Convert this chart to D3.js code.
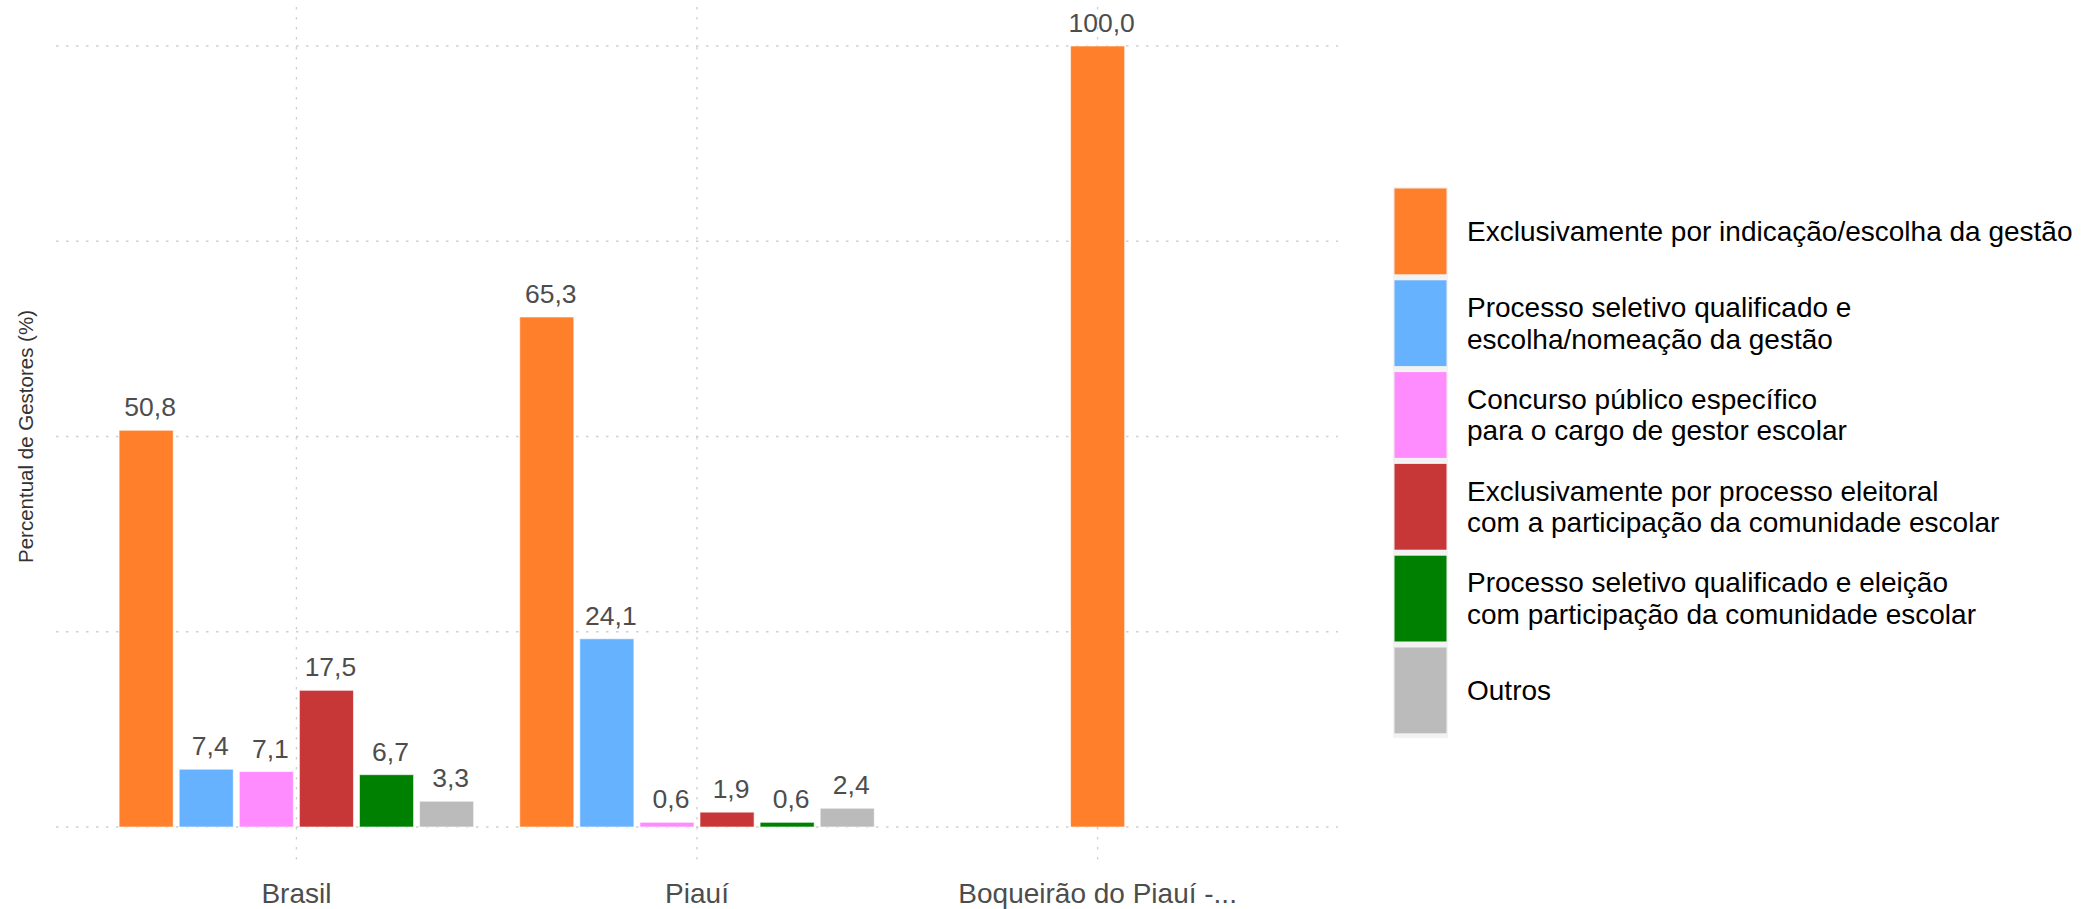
<!DOCTYPE html>
<html>
<head>
<meta charset="utf-8">
<script src="https://cdn.jsdelivr.net/npm/d3@7"></script>
<style>
  html, body { margin: 0; padding: 0; background: #ffffff; }
  svg { display: block; }
  text { font-family: "Liberation Sans", Arial, Helvetica, sans-serif; }
</style>
</head>
<body>
<svg id="chart" width="2096" height="909"></svg>
<script>
// ---- data ----
const categories = ["Brasil", "Piauí", "Boqueirão do Piauí -..."];
const seriesNames = [
  "Exclusivamente por indicação/escolha da gestão",
  "Processo seletivo qualificado e\nescolha/nomeação da gestão",
  "Concurso público específico\npara o cargo de gestor escolar",
  "Exclusivamente por processo eleitoral\ncom a participação da comunidade escolar",
  "Processo seletivo qualificado e eleição\ncom participação da comunidade escolar",
  "Outros"
];
const seriesColors = ["#FF7F2A", "#66B2FF", "#FF8CFF", "#C83737", "#008000", "#BBBBBB"];
const brasilValues = [50.8, 7.4, 7.1, 17.5, 6.7, 3.3];
const piauiValues = [65.3, 24.1, 0.6, 1.9, 0.6, 2.4];
const boqueiraoValues = [100.0, null, null, null, null, null];
const yTicks = [0, 25, 50, 75, 100];

const valuesByCategory = [brasilValues, piauiValues, boqueiraoValues];

// ---- layout ----
const svg = d3.select("#chart");
const panel = { left: 56, right: 1338, top: 7, bottom: 866 };

const x = d3.scaleBand()
  .domain(categories)
  .range([panel.left, panel.right])
  .paddingInner(0)
  .paddingOuter(0.1);

const y = d3.scaleLinear().domain([0, 100]).range([827, 46]);

const groupHalf = x.step() * 0.45;
const xSub = d3.scaleBand()
  .domain(d3.range(seriesNames.length))
  .range([-groupHalf, groupHalf])
  .paddingInner(0.1)
  .paddingOuter(0.05);

const color = d3.scaleOrdinal().domain(d3.range(seriesNames.length)).range(seriesColors);

// gridlines
const grid = svg.append("g");
grid.selectAll("line.h").data(yTicks).enter().append("line")
  .attr("x1", panel.left).attr("x2", panel.right)
  .attr("y1", d => y(d)).attr("y2", d => y(d))
  .attr("stroke", "#cfcfcf").attr("stroke-width", 1.3)
  .attr("stroke-dasharray", "2.5,7.5");
grid.selectAll("line.v").data(categories).enter().append("line")
  .attr("x1", d => x(d) + x.bandwidth() / 2).attr("x2", d => x(d) + x.bandwidth() / 2)
  .attr("y1", panel.top).attr("y2", panel.bottom)
  .attr("stroke", "#cfcfcf").attr("stroke-width", 1.3)
  .attr("stroke-dasharray", "2.5,7.5");

// bars
const bars = [];
valuesByCategory.forEach((vals, ci) => {
  const present = vals.map((v, i) => ({ v, i })).filter(d => d.v !== null);
  present.forEach(d => {
    const cx = x(categories[ci]) + x.bandwidth() / 2;
    let bx;
    if (present.length === 1) {
      bx = cx - xSub.bandwidth() / 2;
    } else {
      bx = cx + xSub(d.i);
    }
    bars.push({ cat: categories[ci], i: d.i, v: d.v, x: bx });
  });
});

const gBars = svg.append("g");
gBars.selectAll("rect").data(bars).enter().append("rect")
  .attr("x", d => d.x)
  .attr("width", xSub.bandwidth())
  .attr("y", d => y(d.v))
  .attr("height", d => y(0) - y(d.v))
  .attr("fill", d => color(d.i))
  .attr("stroke", "#ffffff").attr("stroke-opacity", 0.6).attr("stroke-width", 1);

// value labels
const fmt = v => v.toFixed(1).replace(".", ",");
svg.append("g").selectAll("text").data(bars).enter().append("text")
  .attr("x", d => d.x + xSub.bandwidth() / 2 + 4)
  .attr("y", d => y(d.v) - 14)
  .attr("text-anchor", "middle")
  .attr("font-size", 26.5)
  .attr("fill", "#4d4d4d")
  .text(d => fmt(d.v));

// x axis labels
const xAxis = d3.axisBottom(x).tickSize(0).tickPadding(0);
const gx = svg.append("g").attr("transform", "translate(0,879)").call(xAxis);
gx.select(".domain").remove();
gx.selectAll("text")
  .attr("font-size", 28)
  .attr("font-family", "Liberation Sans, Arial, sans-serif")
  .attr("fill", "#4d4d4d")
  .attr("dy", "0.87em");

// y axis title
svg.append("text")
  .attr("transform", `translate(33,${(y(0) + y(100)) / 2}) rotate(-90)`)
  .attr("text-anchor", "middle")
  .attr("font-size", 20.5)
  .attr("fill", "#333333")
  .text("Percentual de Gestores (%)");

// legend
const legend = svg.append("g");
const keyTop = 187, keyPitch = 91.8, keyX = 1393, keyW = 55;
seriesNames.forEach((name, i) => {
  const ky = keyTop + i * keyPitch;
  legend.append("rect")
    .attr("x", keyX).attr("y", ky)
    .attr("width", keyW).attr("height", keyPitch)
    .attr("fill", "#f2f2f2");
  legend.append("rect")
    .attr("x", keyX + 1.5).attr("y", ky + 1.5)
    .attr("width", keyW - 3).attr("height", keyPitch - 6)
    .attr("fill", color(i));
  const lines = name.split("\n");
  const lh = 31.6;
  const cy = ky + (keyPitch - 4) / 2;
  const t = legend.append("text")
    .attr("x", 1467)
    .attr("font-size", 28)
    .attr("fill", "#000000");
  lines.forEach((ln, j) => {
    t.append("tspan")
      .attr("x", 1467)
      .attr("y", cy + (j - (lines.length - 1) / 2) * lh + 10)
      .text(ln);
  });
});
</script>
</body>
</html>
